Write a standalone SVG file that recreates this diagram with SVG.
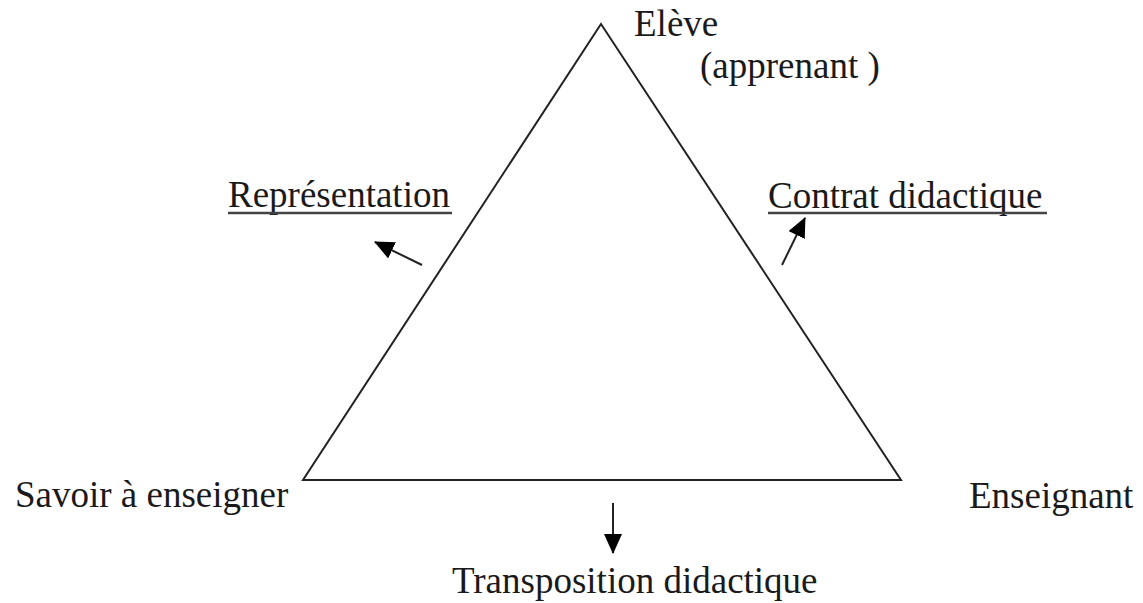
<svg xmlns="http://www.w3.org/2000/svg" width="1143" height="603" viewBox="0 0 1143 603">
<style>
text { font-family: "Liberation Serif", "Times New Roman", serif; font-size: 37px; fill: #1a1a1a; }
.edge { stroke: #222; stroke-width: 2; fill: none; }
.ul { stroke: #444; stroke-width: 2.5; }
</style>
<defs>
<marker id="ahl" markerWidth="20" markerHeight="18" refX="19" refY="9" orient="auto" markerUnits="userSpaceOnUse">
<path d="M0,0 L20,9 L0,18 z" fill="#000"/>
</marker>
</defs>
<rect width="1143" height="603" fill="#fff"/>
<g id="triangle">
<polygon class="edge" points="601,24 303,480 901,480"/>
</g>
<g id="eleve">
<text x="634" y="36">Elève</text>
<text x="700" y="78">(apprenant )</text>
</g>
<g id="savoir">
<text x="15" y="507">Savoir à enseigner</text>
</g>
<g id="enseignant">
<text x="969" y="508">Enseignant</text>
</g>
<g id="representation">
<text x="228" y="207">Représentation</text>
<line class="ul" x1="228" y1="213" x2="452" y2="213"/>
</g>
<g id="contrat">
<text x="768" y="208">Contrat didactique</text>
<line class="ul" x1="768" y1="213" x2="1047" y2="213"/>
</g>
<g id="transposition">
<text x="452" y="593">Transposition didactique</text>
</g>
<g id="connectors">
<line class="edge" x1="422" y1="265" x2="375" y2="242" marker-end="url(#ahl)"/>
<line class="edge" x1="782" y1="265" x2="805" y2="218" marker-end="url(#ahl)"/>
<line class="edge" x1="613" y1="503" x2="613" y2="553" marker-end="url(#ahl)"/>
</g>
</svg>
